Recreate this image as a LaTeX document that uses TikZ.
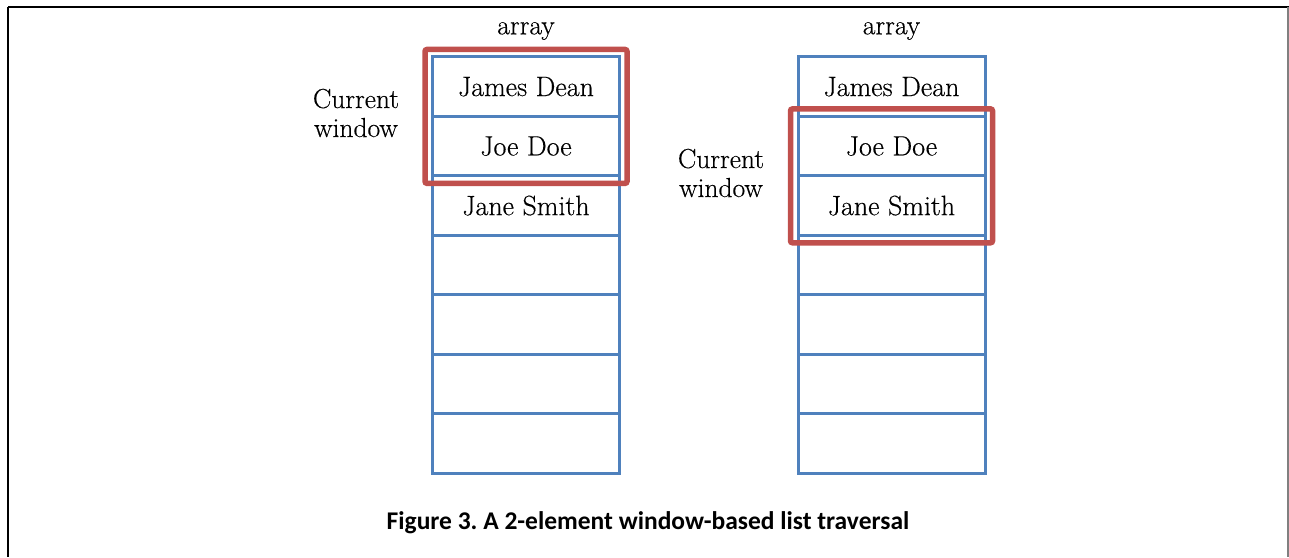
\documentclass[tikz,border=0pt]{standalone}
\usepackage{fontspec}
\newfontfamily\capfont{Carlito}
\newfontfamily\cellfont{Latin Modern Roman}[FakeBold=0.35]
\usetikzlibrary{fit,positioning}
\definecolor{cellblue}{HTML}{4F81BD}
\definecolor{winred}{HTML}{C0504D}
\tikzset{
  cell/.style={draw=cellblue, line width=3pt, minimum width=187pt, minimum height=59.43pt,
    inner sep=0pt, outer sep=0pt, font=\cellfont\fontsize{28}{29}\selectfont},
  window/.style={draw=winred, line width=5.5pt, rounded corners=2pt, inner sep=7.5pt},
  lbl/.style={font=\cellfont\fontsize{27.5}{29}\selectfont, align=center, inner sep=0pt},
  caption/.style={font=\capfont\bfseries\fontsize{25.5}{30}\selectfont, inner sep=0pt}
}
\begin{document}
\begin{tikzpicture}[x=1pt,y=-1pt]
\useasboundingbox (0,0) rectangle (1289,557);
% frame
\draw[black, line width=2pt] (8,7) -- (1289,7);
\draw[black, line width=2pt] (8,7) -- (8,557);
\draw[gray, line width=1.5pt] (1288,7) -- (1288,557);

% left array
\node[cell] (L1) at (526,86.7) {James Dean};
\foreach \i/\t [count=\k from 2] in {1/Joe Doe,2/Jane Smith,3/,4/,5/,6/} {
  \node[cell, anchor=north] (L\k) at (L\i.south) {\t};
}
% right array
\node[cell] (R1) at (891.5,86.7) {James Dean};
\foreach \i/\t [count=\k from 2] in {1/Joe Doe,2/Jane Smith,3/,4/,5/,6/} {
  \node[cell, anchor=north] (R\k) at (R\i.south) {\t};
}

% headers
\node[lbl] (hl) at (526,31) {array};
\node[lbl] (hr) at (891.5,31) {array};

% current windows
\node[window, fit=(L1)(L2)] (wl) {};
\node[window, fit=(R2)(R3)] (wr) {};
\node[lbl] (cl) at (356,113) {Current\\window};
\node[lbl] (cr) at (721,173) {Current\\window};

% caption
\node[caption] (cap) at (648,523) {Figure 3.\ A 2-element window-based list traversal};
\end{tikzpicture}
\end{document}
